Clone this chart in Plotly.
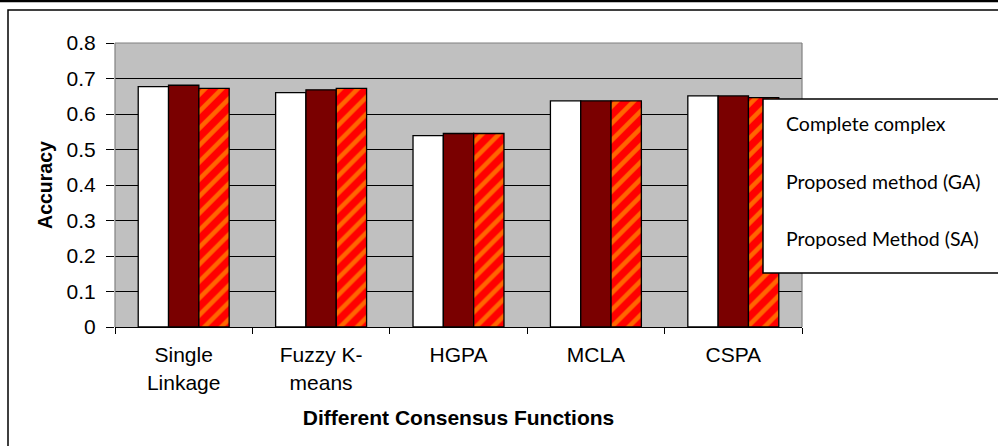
import plotly.graph_objects as go

# Consensus functions compared
categories = ["Single<br>Linkage", "Fuzzy K-<br>means", "HGPA", "MCLA", "CSPA"]
series_names = ["Complete complex", "Proposed method (GA)", "Proposed Method (SA)"]

# Accuracy per consensus function
complete_complex = [0.677, 0.660, 0.539, 0.637, 0.651]
proposed_ga = [0.681, 0.668, 0.545, 0.637, 0.651]
proposed_sa = [0.672, 0.672, 0.545, 0.637, 0.646]

y_ticks = [0, 0.1, 0.2, 0.3, 0.4, 0.5, 0.6, 0.7, 0.8]
y_tick_text = ["0", "0.1", "0.2", "0.3", "0.4", "0.5", "0.6", "0.7", "0.8"]

W, H = 998, 446
L, R, T, B = 115, 802, 43, 327  # plot area in pixels


def px(x):
    return (x - L) / (R - L)


def py(y):
    return (B - y) / (B - T)


arial = "Liberation Sans, Arial, sans-serif"
outline = dict(color="black", width=1.3)

fig = go.Figure()
fig.add_trace(go.Bar(x=categories, y=complete_complex, name=series_names[0],
                     marker=dict(color="white", line=outline)))
fig.add_trace(go.Bar(x=categories, y=proposed_ga, name=series_names[1],
                     marker=dict(color="#7A0000", line=outline)))
fig.add_trace(go.Bar(x=categories, y=proposed_sa, name=series_names[2],
                     marker=dict(color="#FF0000", line=outline,
                                 pattern=dict(shape="/", fgcolor="#FFCC00",
                                              bgcolor="#FF0000", size=12,
                                              solidity=0.38,
                                              fillmode="overlay"))))

shapes = [
    # outer page rule and inner frame
    dict(type="line", xref="paper", yref="paper", x0=px(-5), x1=px(1010),
         y0=py(1), y1=py(1), line=dict(color="black", width=2.5)),
    dict(type="rect", xref="paper", yref="paper", x0=px(8), x1=px(1010),
         y0=py(10), y1=py(460), line=dict(color="black", width=1.5)),
    # plot area border (left, top, right)
    dict(type="line", xref="paper", yref="paper", x0=0, x1=0, y0=0, y1=1,
         line=dict(color="#808080", width=1.2), layer="above"),
    dict(type="line", xref="paper", yref="paper", x0=0, x1=1, y0=1, y1=1,
         line=dict(color="#808080", width=1.2), layer="above"),
    dict(type="line", xref="paper", yref="paper", x0=1, x1=1, y0=0, y1=1,
         line=dict(color="#808080", width=1.2), layer="above"),
    # legend box
    dict(type="rect", xref="paper", yref="paper", x0=px(763), x1=px(1010),
         y0=py(273), y1=py(99), fillcolor="white",
         line=dict(color="black", width=1.5), layer="above"),
]

annotations = []
for name, yc in zip(series_names, [124, 181, 238]):
    annotations.append(dict(xref="paper", yref="paper", x=px(784), y=py(yc),
                            text=name, showarrow=False, xanchor="left",
                            yanchor="middle",
                            font=dict(family="Lato, sans-serif", size=19.5,
                                      color="black")))

fig.update_layout(
    width=W, height=H,
    margin=dict(l=L, r=W - R, t=T, b=H - B),
    paper_bgcolor="white",
    plot_bgcolor="#C0C0C0",
    barmode="group",
    bargap=0.338,
    bargroupgap=0,
    showlegend=False,
    shapes=shapes,
    annotations=annotations,
    xaxis=dict(
        type="category",
        tickson="boundaries",
        ticks="outside", ticklen=6, tickcolor="black", tickwidth=1.2,
        showline=True, linecolor="black", linewidth=1.2,
        showgrid=False,
        tickfont=dict(family=arial, size=21, color="black"),
        ticklabelstandoff=9,
        title=dict(text="<b>Different Consensus Functions</b>",
                   font=dict(family=arial, size=21, color="black"),
                   standoff=17),
    ),
    yaxis=dict(
        range=[0, 0.8],
        tickvals=y_ticks, ticktext=y_tick_text,
        ticks="outside", ticklen=8, tickcolor="black", tickwidth=1.2,
        showline=False,
        showgrid=True, gridcolor="black", gridwidth=1.2,
        zeroline=False,
        tickfont=dict(family=arial, size=21, color="black"),
        ticklabelstandoff=6,
        title=dict(text="<b>Accuracy</b>",
                   font=dict(family=arial, size=19.5, color="black"),
                   standoff=8),
    ),
)

fig.write_html("out.html")
